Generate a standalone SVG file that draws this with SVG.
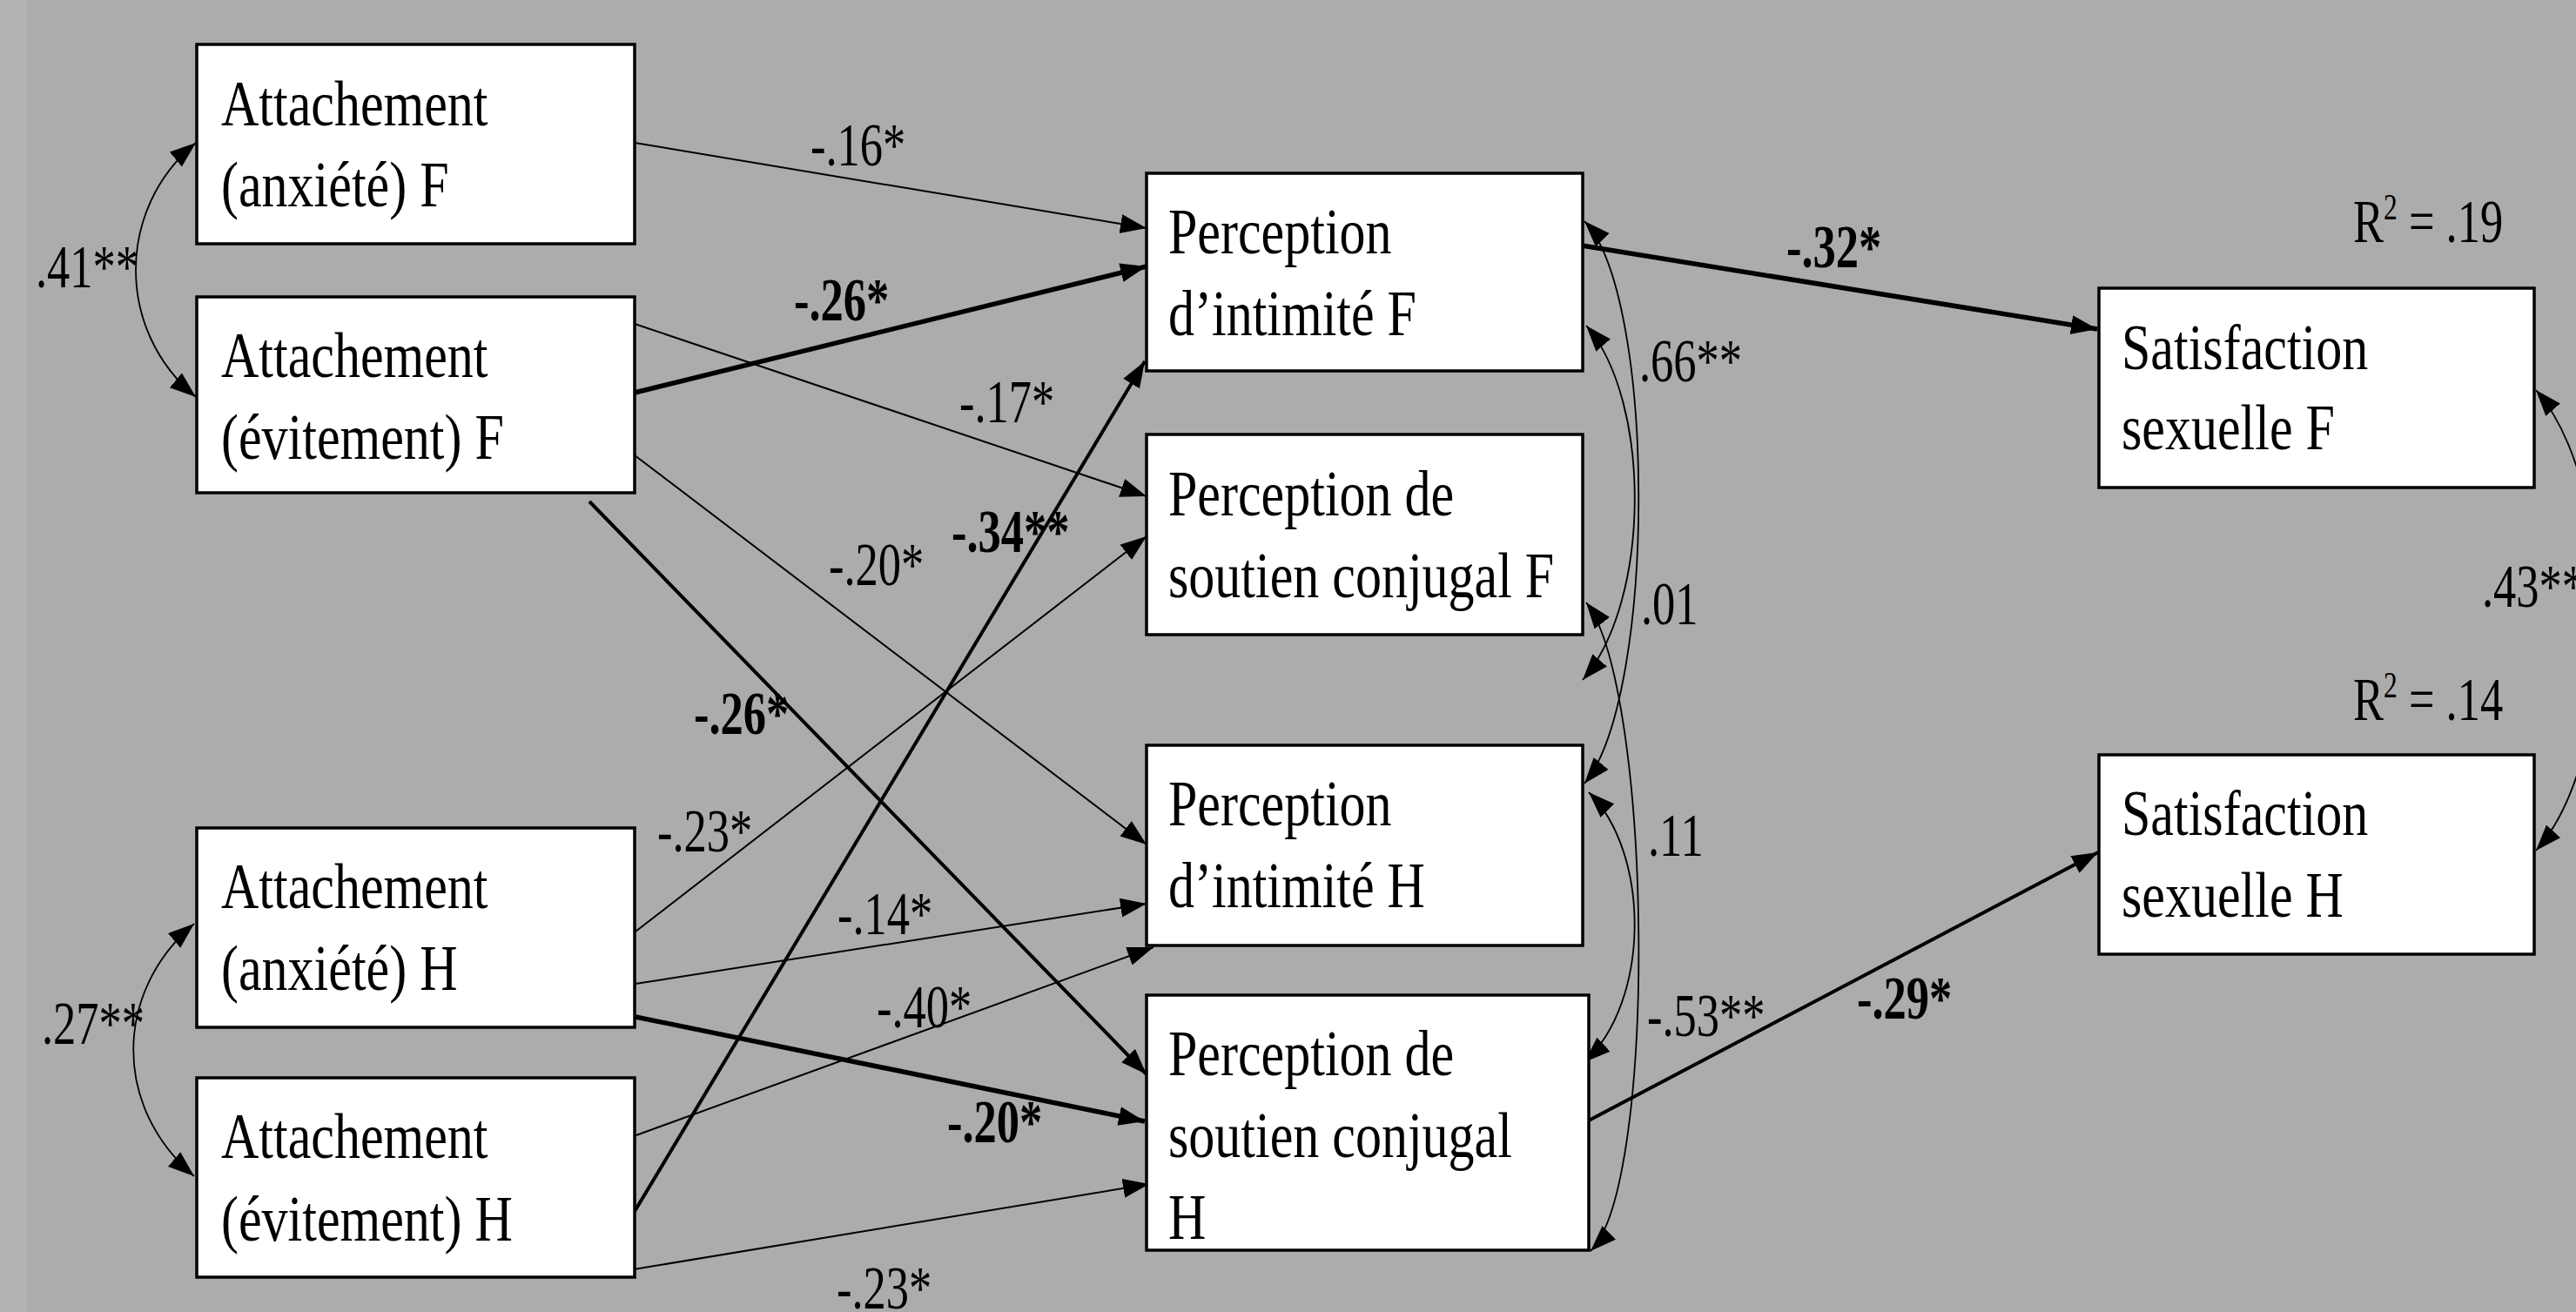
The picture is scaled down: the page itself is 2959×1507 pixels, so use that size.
<svg xmlns="http://www.w3.org/2000/svg" width="2959" height="1507" viewBox="0 0 2959 1507">
<style>
.bx{fill:#fff;stroke:#000;stroke-width:3.5}
.t{font-family:"Liberation Serif","Times New Roman",serif;font-size:75px;fill:#000}
.l{font-family:"Liberation Serif","Times New Roman",serif;font-size:70px;fill:#000}
.b{font-weight:bold}
.c{fill:none;stroke:#000}
.thin{stroke-width:2}
.med{stroke-width:4}
.thk{stroke-width:5.5}
.arr{marker-end:url(#ah)}
.cov{fill:none;stroke:#000;stroke-width:1.8;marker-start:url(#ah);marker-end:url(#ah)}
</style>
<defs>
<marker id="ah" markerUnits="userSpaceOnUse" markerWidth="32" markerHeight="24" refX="30" refY="11" orient="auto-start-reverse" viewBox="0 0 32 24">
<path d="M0,0 L30,11 L0,22 z" fill="#000"/>
</marker>
</defs>
<rect x="0" y="0" width="2959" height="1507" fill="#abadac"/>
<rect x="0" y="0" width="30" height="1507" fill="#b3b5b4"/>

<g id="connectors">
<line class="c thin arr" x1="729" y1="164" x2="1317" y2="262"/>
<line class="c thk arr" x1="729" y1="451" x2="1317" y2="306"/>
<line class="c thin arr" x1="726" y1="371" x2="1317" y2="570"/>
<line class="c thin arr" x1="729" y1="523" x2="1317" y2="970"/>
<line class="c med arr" x1="677" y1="576" x2="1317" y2="1234"/>
<line class="c thin arr" x1="730" y1="1070" x2="1317" y2="616"/>
<line class="c thin arr" x1="730" y1="1130" x2="1317" y2="1038"/>
<line class="c thk arr" x1="730" y1="1168" x2="1315" y2="1288"/>
<line class="c med arr" x1="728" y1="1393" x2="1315" y2="415"/>
<line class="c thin arr" x1="728" y1="1305" x2="1325" y2="1088"/>
<line class="c thin arr" x1="728" y1="1458" x2="1320" y2="1360"/>
<line class="c thk arr" x1="1817" y1="282" x2="2409" y2="378"/>
<line class="c med arr" x1="1825" y1="1287" x2="2410" y2="979"/>
<path class="cov" d="M225,164 C133,240 133,380 225,456"/>
<path class="cov" d="M223,1061 C130,1140 130,1272 223,1351"/>
<path class="cov" d="M1820,254 C1903,340 1903,800 1820,900"/>
<path class="cov" d="M1822,374 C1897,460 1897,690 1818,781"/>
<path class="cov" d="M1822,692 C1898,790 1905,1360 1827,1437"/>
<path class="cov" d="M1825,910 C1896,980 1896,1150 1820,1220"/>
<path class="cov" d="M2913,448 C3010,560 3010,870 2913,977"/>
<text class="l" transform="translate(931,190) scale(0.75,1)">-.16*</text>
<text class="l b" transform="translate(912,368) scale(0.75,1)">-.26*</text>
<text class="l" transform="translate(1102,485) scale(0.75,1)">-.17*</text>
<text class="l" transform="translate(952,672) scale(0.75,1)">-.20*</text>
<text class="l b" transform="translate(797,843) scale(0.75,1)">-.26*</text>
<text class="l" transform="translate(755,978) scale(0.75,1)">-.23*</text>
<text class="l" transform="translate(962,1073) scale(0.75,1)">-.14*</text>
<text class="l b" transform="translate(1088,1312) scale(0.75,1)">-.20*</text>
<text class="l b" transform="translate(1093,634) scale(0.75,1)">-.34**</text>
<text class="l" transform="translate(1007,1180) scale(0.75,1)">-.40*</text>
<text class="l" transform="translate(961,1503) scale(0.75,1)">-.23*</text>
<text class="l b" transform="translate(2052,307) scale(0.75,1)">-.32*</text>
<text class="l b" transform="translate(2133,1170) scale(0.75,1)">-.29*</text>
<text class="l" transform="translate(41,330) scale(0.75,1)">.41**</text>
<text class="l" transform="translate(48,1199) scale(0.75,1)">.27**</text>
<text class="l" transform="translate(1883,438) scale(0.75,1)">.66**</text>
<text class="l" transform="translate(1885,717) scale(0.75,1)">.01</text>
<text class="l" transform="translate(1893,983) scale(0.75,1)">.11</text>
<text class="l" transform="translate(1892,1190) scale(0.75,1)">-.53**</text>
<text class="l" transform="translate(2851,697) scale(0.75,1)">.43**</text>
</g>

<g id="attachement-anxiete-f">
<rect class="bx" x="226" y="51" width="503" height="229"/>
<text class="t" transform="translate(254,144) scale(0.8,1)"><tspan x="0" y="0">Attachement</tspan><tspan x="0" y="93">(anxiété) F</tspan></text>
</g>
<g id="attachement-evitement-f">
<rect class="bx" x="226" y="341" width="503" height="225"/>
<text class="t" transform="translate(254,433) scale(0.8,1)"><tspan x="0" y="0">Attachement</tspan><tspan x="0" y="94">(évitement) F</tspan></text>
</g>
<g id="attachement-anxiete-h">
<rect class="bx" x="226" y="951" width="503" height="229"/>
<text class="t" transform="translate(254,1043) scale(0.8,1)"><tspan x="0" y="0">Attachement</tspan><tspan x="0" y="94">(anxiété) H</tspan></text>
</g>
<g id="attachement-evitement-h">
<rect class="bx" x="226" y="1238" width="503" height="229"/>
<text class="t" transform="translate(254,1330) scale(0.8,1)"><tspan x="0" y="0">Attachement</tspan><tspan x="0" y="95">(évitement) H</tspan></text>
</g>
<g id="perception-intimite-f">
<rect class="bx" x="1317" y="199" width="501" height="227"/>
<text class="t" transform="translate(1342,291) scale(0.8,1)"><tspan x="0" y="0">Perception</tspan><tspan x="0" y="94">d’intimité F</tspan></text>
</g>
<g id="perception-soutien-f">
<rect class="bx" x="1317" y="499" width="501" height="230"/>
<text class="t" transform="translate(1342,592) scale(0.8,1)"><tspan x="0" y="0">Perception de</tspan><tspan x="0" y="94">soutien conjugal F</tspan></text>
</g>
<g id="perception-intimite-h">
<rect class="bx" x="1317" y="856" width="501" height="230"/>
<text class="t" transform="translate(1342,948) scale(0.8,1)"><tspan x="0" y="0">Perception</tspan><tspan x="0" y="94">d’intimité H</tspan></text>
</g>
<g id="perception-soutien-h">
<rect class="bx" x="1317" y="1143" width="508" height="293"/>
<text class="t" transform="translate(1342,1235) scale(0.8,1)"><tspan x="0" y="0">Perception de</tspan><tspan x="0" y="94">soutien conjugal</tspan><tspan x="0" y="188">H</tspan></text>
</g>
<g id="satisfaction-sexuelle-f">
<rect class="bx" x="2411" y="331" width="500" height="229"/>
<text class="t" transform="translate(2437,424) scale(0.8,1)"><tspan x="0" y="0">Satisfaction</tspan><tspan x="0" y="92">sexuelle F</tspan></text>
<text class="l" transform="translate(2703,278) scale(0.75,1)">R<tspan font-size="42" dy="-26">2</tspan><tspan dy="26"> = .19</tspan></text>
</g>
<g id="satisfaction-sexuelle-h">
<rect class="bx" x="2411" y="867" width="500" height="229"/>
<text class="t" transform="translate(2437,959) scale(0.8,1)"><tspan x="0" y="0">Satisfaction</tspan><tspan x="0" y="94">sexuelle H</tspan></text>
<text class="l" transform="translate(2703,827) scale(0.75,1)">R<tspan font-size="42" dy="-26">2</tspan><tspan dy="26"> = .14</tspan></text>
</g>
</svg>
